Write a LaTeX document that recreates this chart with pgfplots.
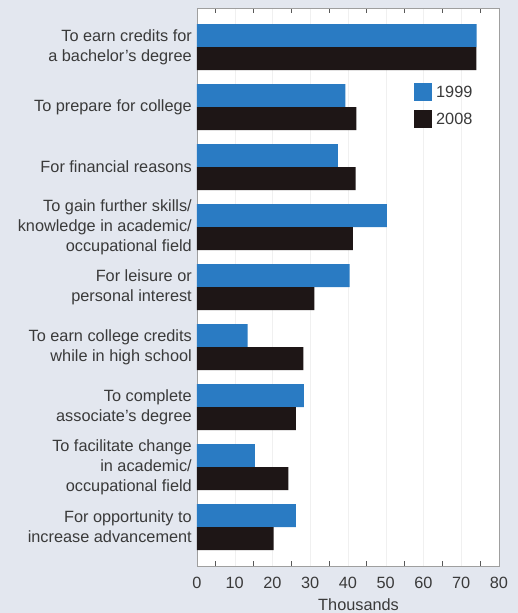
\documentclass[border=0pt]{standalone}
\usepackage{fontspec}
\setmainfont{Liberation Sans}
\usepackage{pgfplots}
\pgfplotsset{compat=1.18}
\definecolor{bg}{HTML}{E3E7EF}
\definecolor{bar99}{HTML}{2A7BC3}
\definecolor{bar08}{HTML}{1E1616}
\definecolor{txt}{HTML}{3A3A3A}
\newcommand\lbl{\fontsize{16.3bp}{19.8bp}\selectfont}
\begin{document}
\begin{tikzpicture}
\path[use as bounding box, fill=bg] (-197bp,-47bp) rectangle (321bp,566bp);
\begin{axis}[
	scale only axis, width=302bp, height=558bp,
	xbar, bar width=23bp,
	xmin=0, xmax=80, ymin=-0.65, ymax=8.65, y dir=reverse,
	axis background/.style={fill=white},
	axis line style={draw=gray!75},
	xtick={0,10,...,80}, minor xtick={5,15,...,75},
	xmajorgrids=true, major grid style={gray!12},
	tick align=inside, xtick pos=both,
	major tick length=0pt, minor tick length=5bp,
	every minor tick/.append style={draw=gray!70!black, line width=0.8bp},
	ytick={0,...,8}, y tick style={draw=none},
	yticklabels={
		{To earn credits for\\a bachelor’s degree},
		{To prepare for college},
		{For financial reasons},
		{To gain further skills/\\knowledge in academic/\\occupational field},
		{For leisure or\\personal interest},
		{To earn college credits\\while in high school},
		{To complete\\associate’s degree},
		{To facilitate change\\in academic/\\occupational field},
		{For opportunity to\\increase advancement}},
	yticklabel style={align=right, font=\lbl, text=txt, inner sep=0pt, xshift=-5bp},
	xticklabel style={font=\lbl, text=txt, yshift=-8bp},
	/pgf/number format/assume math mode=true,
	xlabel={Thousands},
	xlabel style={at={(axis description cs:0.535,0)}, anchor=center, yshift=-39bp, font=\lbl, text=txt},
	legend style={at={(axis description cs:0.7185,0.8656)}, anchor=north west,
		draw=none, fill=none, font=\lbl, text=txt, row sep=9bp, column sep=4bp,
		inner sep=0pt, nodes={inner sep=0pt}},
	legend image code/.code={\path[#1, draw=none] (0bp,-9bp) rectangle (18bp,9bp);},
	]
	\addplot[fill=bar99, draw=none, bar shift=11.5bp] coordinates {
		(74.1,0) (39.3,1) (37.3,2) (50.3,3) (40.4,4) (13.4,5) (28.3,6) (15.3,7) (26.2,8)};
	\addplot[fill=bar08, draw=none, bar shift=-11.5bp] coordinates {
		(74.0,0) (42.2,1) (42.0,2) (41.3,3) (31.1,4) (28.2,5) (26.2,6) (24.2,7) (20.3,8)};
	\legend{1999,2008}
\end{axis}
\end{tikzpicture}
\end{document}
